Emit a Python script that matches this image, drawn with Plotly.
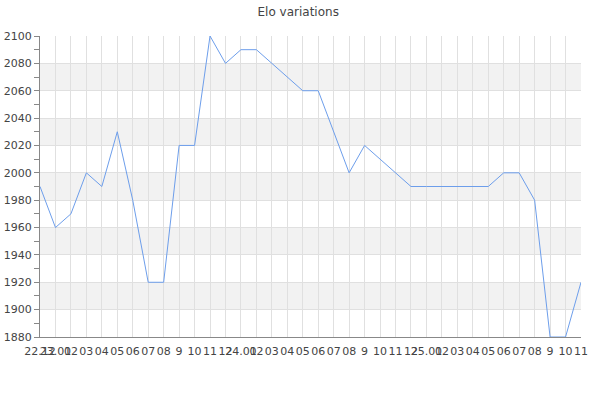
import plotly.graph_objects as go

months = ["22.12", "23.01", "02", "03", "04", "05", "06", "07", "08", "9", "10", "11", "12",
          "24.01", "02", "03", "04", "05", "06", "07", "08", "9", "10", "11", "12",
          "25.01", "02", "03", "04", "05", "06", "07", "08", "9", "10", "11"]
elo = [1990, 1960, 1970, 2000, 1990, 2030, 1980, 1920, 1920, 2020, 2020, 2100, 2080,
       2090, 2090, 2080, 2070, 2060, 2060, 2030, 2000, 2020, 2010, 2000, 1990,
       1990, 1990, 1990, 1990, 1990, 2000, 2000, 1980, 1880, 1880, 1920]
band_starts = [1900, 1940, 1980, 2020, 2060]

x = list(range(len(elo)))

fig = go.Figure()
fig.add_trace(go.Scatter(x=x, y=elo, mode="lines",
                         line=dict(color="#6d9eeb", width=1), hoverinfo="skip"))

shapes = [dict(type="rect", xref="paper", yref="y", x0=0, x1=1, y0=b, y1=b + 20,
               fillcolor="#f2f2f2", line=dict(width=0), layer="below") for b in band_starts]

fig.update_layout(
    width=600, height=400,
    margin=dict(l=40, r=19, t=36, b=63, autoexpand=False),
    paper_bgcolor="white", plot_bgcolor="white",
    showlegend=False,
    shapes=shapes,
    title=dict(text="Elo variations", x=0.497, xref="container", xanchor="center",
               y=0.97, yref="container", yanchor="middle", automargin=False,
               font=dict(family="DejaVu Sans", size=12, color="#444")),
    font=dict(family="DejaVu Sans", size=11, color="#444"),
)
fig.update_xaxes(range=[0, len(elo) - 1], tickvals=x, ticktext=months, tickangle=0,
                 automargin=False,
                 showgrid=True, gridcolor="#e0e0e0", gridwidth=1,
                 showline=True, linecolor="#888", linewidth=1, ticks="", zeroline=False,
                 ticklabelstandoff=4,
                 tickfont=dict(size=11, color="#444"))
fig.update_yaxes(range=[1880, 2100], dtick=20, tick0=1880, automargin=False,
                 showgrid=True, gridcolor="#e0e0e0", gridwidth=1,
                 showline=True, linecolor="#888", linewidth=1, ticks="outside", ticklen=5,
                 tickcolor="#888", zeroline=False,
                 minor=dict(dtick=10, ticks="outside", ticklen=5, tickcolor="#888", showgrid=False),
                 tickfont=dict(size=11, color="#444"))

fig.write_html("out.html", config={"displayModeBar": False},
               post_script="document.body.style.margin='0';")
